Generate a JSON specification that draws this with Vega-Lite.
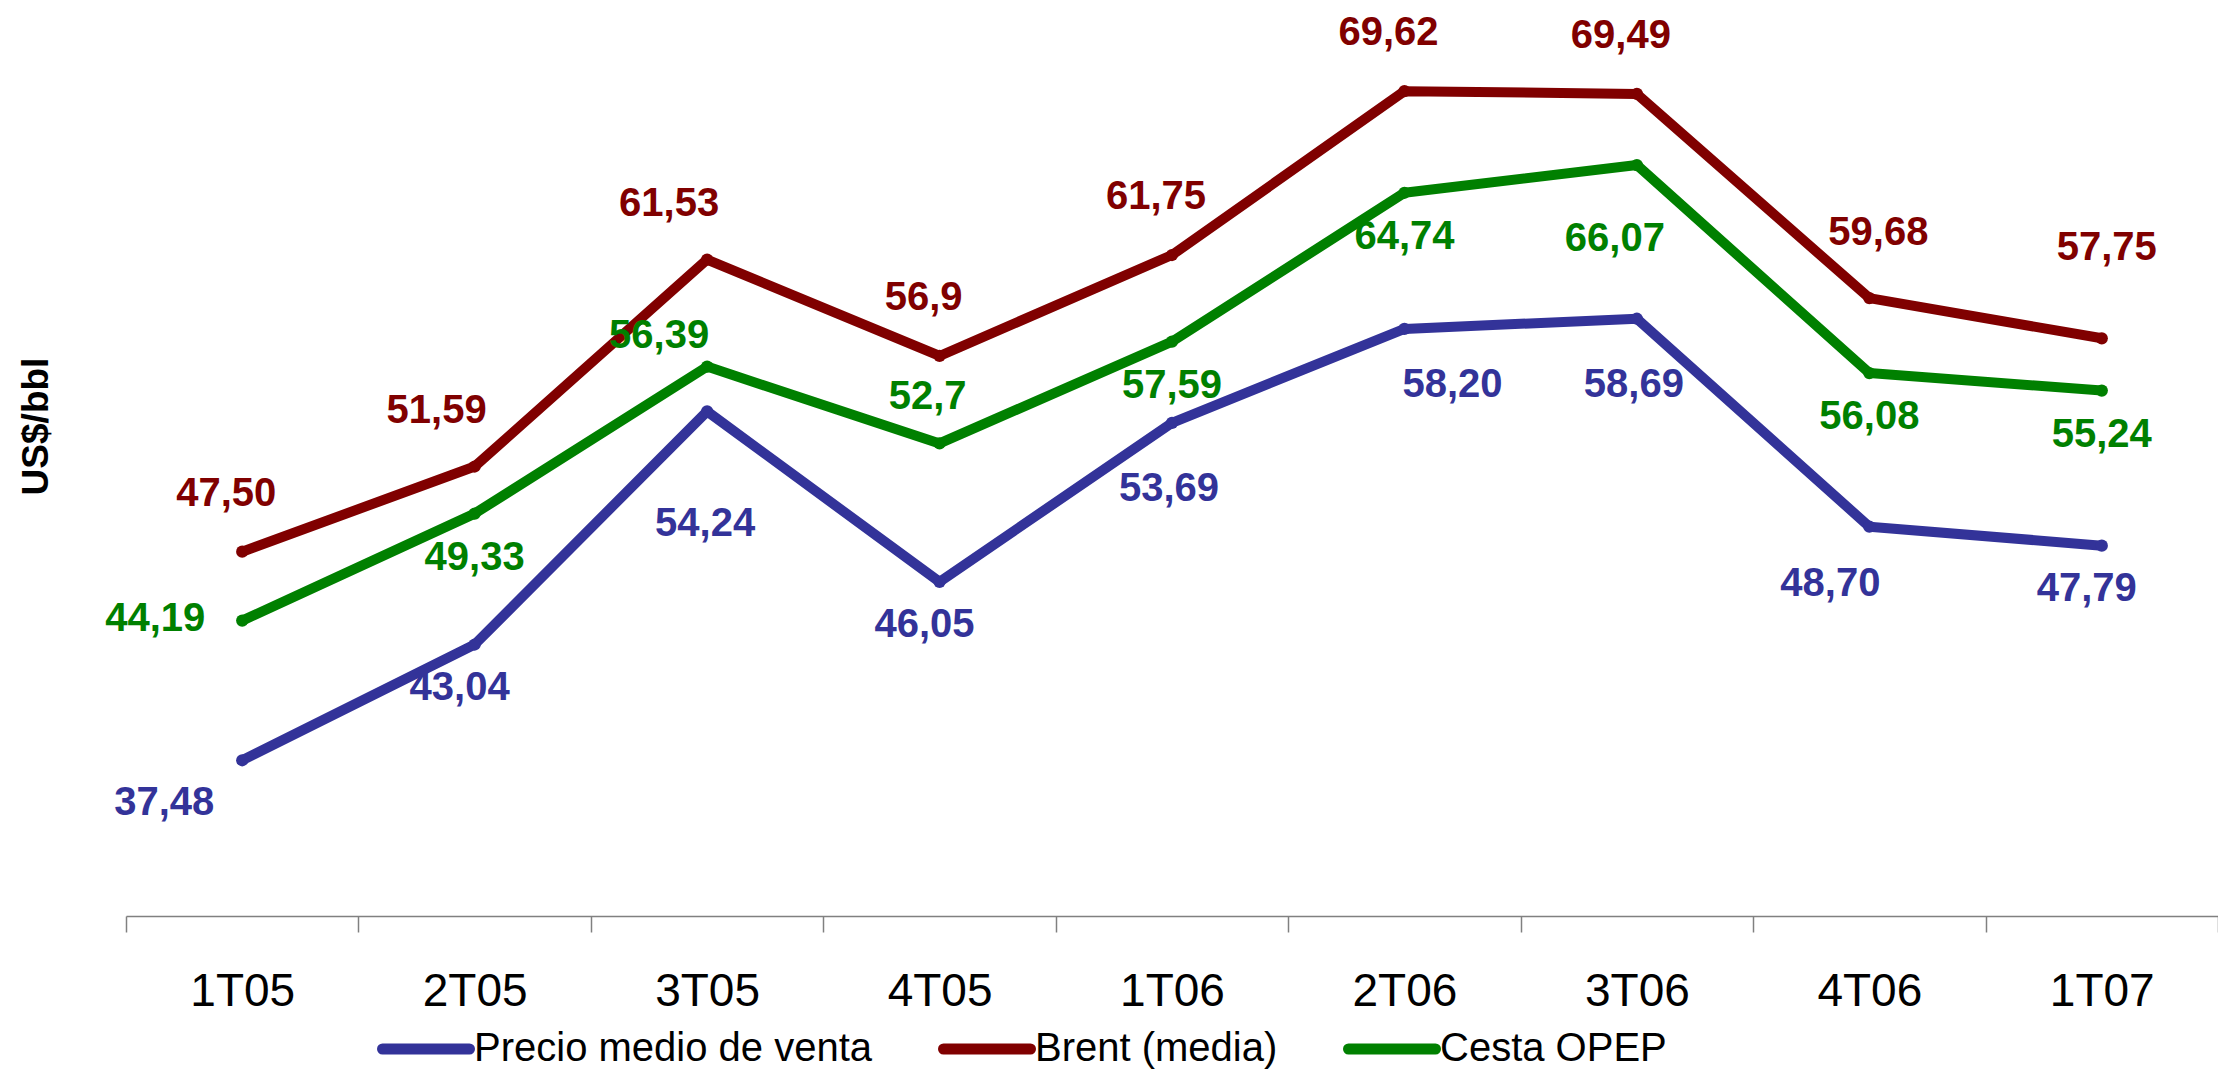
{
  "$schema": "https://vega.github.io/schema/vega-lite/v6.json",
  "autosize": {"type": "none"},
  "padding": {"left": 126, "top": 0, "right": 0, "bottom": 156},
  "width": 2092,
  "height": 916,
  "background": "white",
  "config": {
    "view": {"stroke": null},
    "font": "Liberation Sans",
    "text": {"font": "Liberation Sans", "fontWeight": "bold", "fontSize": 40, "align": "center", "baseline": "middle"}
  },
  "data": {
    "values": [
      {"q": "1T05", "serie": "Precio medio de venta", "v": 37.48, "txt": "37,48"},
      {"q": "2T05", "serie": "Precio medio de venta", "v": 43.04, "txt": "43,04"},
      {"q": "3T05", "serie": "Precio medio de venta", "v": 54.24, "txt": "54,24"},
      {"q": "4T05", "serie": "Precio medio de venta", "v": 46.05, "txt": "46,05"},
      {"q": "1T06", "serie": "Precio medio de venta", "v": 53.69, "txt": "53,69"},
      {"q": "2T06", "serie": "Precio medio de venta", "v": 58.20, "txt": "58,20"},
      {"q": "3T06", "serie": "Precio medio de venta", "v": 58.69, "txt": "58,69"},
      {"q": "4T06", "serie": "Precio medio de venta", "v": 48.70, "txt": "48,70"},
      {"q": "1T07", "serie": "Precio medio de venta", "v": 47.79, "txt": "47,79"},
      {"q": "1T05", "serie": "Brent (media)", "v": 47.50, "txt": "47,50"},
      {"q": "2T05", "serie": "Brent (media)", "v": 51.59, "txt": "51,59"},
      {"q": "3T05", "serie": "Brent (media)", "v": 61.53, "txt": "61,53"},
      {"q": "4T05", "serie": "Brent (media)", "v": 56.9, "txt": "56,9"},
      {"q": "1T06", "serie": "Brent (media)", "v": 61.75, "txt": "61,75"},
      {"q": "2T06", "serie": "Brent (media)", "v": 69.62, "txt": "69,62"},
      {"q": "3T06", "serie": "Brent (media)", "v": 69.49, "txt": "69,49"},
      {"q": "4T06", "serie": "Brent (media)", "v": 59.68, "txt": "59,68"},
      {"q": "1T07", "serie": "Brent (media)", "v": 57.75, "txt": "57,75"},
      {"q": "1T05", "serie": "Cesta OPEP", "v": 44.19, "txt": "44,19"},
      {"q": "2T05", "serie": "Cesta OPEP", "v": 49.33, "txt": "49,33"},
      {"q": "3T05", "serie": "Cesta OPEP", "v": 56.39, "txt": "56,39"},
      {"q": "4T05", "serie": "Cesta OPEP", "v": 52.7, "txt": "52,7"},
      {"q": "1T06", "serie": "Cesta OPEP", "v": 57.59, "txt": "57,59"},
      {"q": "2T06", "serie": "Cesta OPEP", "v": 64.74, "txt": "64,74"},
      {"q": "3T06", "serie": "Cesta OPEP", "v": 66.07, "txt": "66,07"},
      {"q": "4T06", "serie": "Cesta OPEP", "v": 56.08, "txt": "56,08"},
      {"q": "1T07", "serie": "Cesta OPEP", "v": 55.24, "txt": "55,24"}
    ]
  },
  "encoding": {
    "x": {
      "field": "q",
      "type": "ordinal",
      "sort": ["1T05", "2T05", "3T05", "4T05", "1T06", "2T06", "3T06", "4T06", "1T07"],
      "scale": {"type": "band", "paddingInner": 0, "paddingOuter": 0},
      "axis": {
        "title": null,
        "labelAngle": 0,
        "labelFont": "Liberation Sans",
        "labelFontSize": 46,
        "labelColor": "#000000",
        "labelBaseline": "alphabetic",
        "labelPadding": 73,
        "domainColor": "#808080",
        "domainWidth": 1.5,
        "tickBand": "extent",
        "tickColor": "#808080",
        "tickWidth": 1.5,
        "tickSize": 16,
        "grid": false
      }
    },
    "y": {
      "field": "v",
      "type": "quantitative",
      "scale": {"domain": [30, 74], "zero": false, "nice": false},
      "axis": {
        "title": "US$/bbl",
        "titleFont": "Liberation Sans",
        "titleFontSize": 37,
        "titleFontWeight": "bold",
        "titleColor": "#000000",
        "titleAngle": -90,
        "titleAlign": "center",
        "titleBaseline": "middle",
        "titleX": -90,
        "titleY": 426,
        "labels": false,
        "ticks": false,
        "domain": false,
        "grid": false
      }
    },
    "color": {
      "field": "serie",
      "type": "nominal",
      "scale": {
        "domain": ["Precio medio de venta", "Brent (media)", "Cesta OPEP"],
        "range": ["#333399", "#800000", "#008000"]
      },
      "legend": {
        "title": null,
        "orient": "none",
        "direction": "horizontal",
        "legendX": 251,
        "legendY": 1000,
        "symbolType": "stroke",
        "symbolSize": 7569,
        "symbolStrokeWidth": 11,
        "labelFont": "Liberation Sans",
        "labelFontSize": 40,
        "labelColor": "#000000",
        "labelLimit": 1000,
        "labelOffset": -1,
        "columnPadding": 48,
        "encode": {"symbols": {"update": {"strokeCap": {"value": "round"}}}}
      }
    }
  },
  "layer": [
    {"mark": {"type": "line", "strokeWidth": 10, "strokeJoin": "round", "strokeCap": "round"}},
    {"mark": {"type": "point", "shape": "circle", "filled": true, "opacity": 1, "size": 150}},

    {"transform": [{"filter": "datum.serie == 'Brent (media)' && indexof(['1T05','4T05','1T06','2T06','3T06'], datum.q) >= 0"}],
     "mark": {"type": "text", "dx": -16, "dy": -58},
     "encoding": {"text": {"field": "txt"}}},
    {"transform": [{"filter": "datum.serie == 'Brent (media)' && indexof(['2T05','3T05'], datum.q) >= 0"}],
     "mark": {"type": "text", "dx": -38, "dy": -56},
     "encoding": {"text": {"field": "txt"}}},
    {"transform": [{"filter": "datum.serie == 'Brent (media)' && datum.q == '4T06'"}],
     "mark": {"type": "text", "dx": 9, "dy": -65},
     "encoding": {"text": {"field": "txt"}}},
    {"transform": [{"filter": "datum.serie == 'Brent (media)' && datum.q == '1T07'"}],
     "mark": {"type": "text", "dx": 5, "dy": -90},
     "encoding": {"text": {"field": "txt"}}},

    {"transform": [{"filter": "datum.serie == 'Cesta OPEP' && indexof(['2T05','1T06','2T06','4T06','1T07'], datum.q) >= 0"}],
     "mark": {"type": "text", "dx": 0, "dy": 44},
     "encoding": {"text": {"field": "txt"}}},
    {"transform": [{"filter": "datum.serie == 'Cesta OPEP' && datum.q == '1T05'"}],
     "mark": {"type": "text", "dx": -87, "dy": -2},
     "encoding": {"text": {"field": "txt"}}},
    {"transform": [{"filter": "datum.serie == 'Cesta OPEP' && datum.q == '3T05'"}],
     "mark": {"type": "text", "dx": -48, "dy": -31},
     "encoding": {"text": {"field": "txt"}}},
    {"transform": [{"filter": "datum.serie == 'Cesta OPEP' && datum.q == '4T05'"}],
     "mark": {"type": "text", "dx": -12, "dy": -46},
     "encoding": {"text": {"field": "txt"}}},
    {"transform": [{"filter": "datum.serie == 'Cesta OPEP' && datum.q == '3T06'"}],
     "mark": {"type": "text", "dx": -22, "dy": 74},
     "encoding": {"text": {"field": "txt"}}},

    {"transform": [{"filter": "datum.serie == 'Precio medio de venta' && indexof(['2T05','4T05','1T07'], datum.q) >= 0"}],
     "mark": {"type": "text", "dx": -15, "dy": 43},
     "encoding": {"text": {"field": "txt"}}},
    {"transform": [{"filter": "datum.serie == 'Precio medio de venta' && datum.q == '1T05'"}],
     "mark": {"type": "text", "dx": -78, "dy": 43},
     "encoding": {"text": {"field": "txt"}}},
    {"transform": [{"filter": "datum.serie == 'Precio medio de venta' && datum.q == '3T05'"}],
     "mark": {"type": "text", "dx": -2, "dy": 113},
     "encoding": {"text": {"field": "txt"}}},
    {"transform": [{"filter": "datum.serie == 'Precio medio de venta' && indexof(['1T06','3T06'], datum.q) >= 0"}],
     "mark": {"type": "text", "dx": -3, "dy": 66},
     "encoding": {"text": {"field": "txt"}}},
    {"transform": [{"filter": "datum.serie == 'Precio medio de venta' && datum.q == '2T06'"}],
     "mark": {"type": "text", "dx": 48, "dy": 56},
     "encoding": {"text": {"field": "txt"}}},
    {"transform": [{"filter": "datum.serie == 'Precio medio de venta' && datum.q == '4T06'"}],
     "mark": {"type": "text", "dx": -39, "dy": 57},
     "encoding": {"text": {"field": "txt"}}}
  ]
}
